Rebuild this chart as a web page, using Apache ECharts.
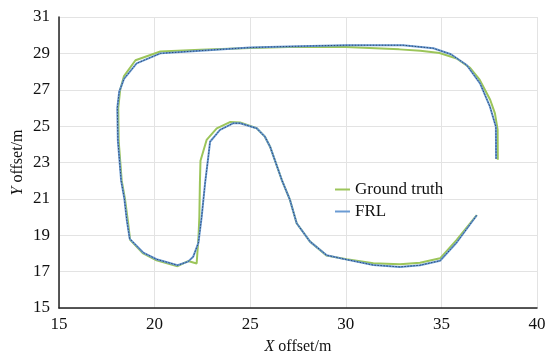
<!DOCTYPE html>
<html>
<head>
<meta charset="utf-8">
<script src="https://cdn.jsdelivr.net/npm/echarts@6/dist/echarts.min.js"></script>
<style>
  html, body { margin: 0; padding: 0; background: #fff; }
  #chart { width: 547px; height: 358px; }
</style>
</head>
<body>
<div id="chart"></div>
<script>
// trajectory points [x offset, y offset]
const groundTruth = [
  [37.95, 23.15], [37.94, 24.8], [37.8, 25.7], [37.55, 26.45], [37.0, 27.55],
  [36.5, 28.2], [35.8, 28.72], [34.9, 29.02], [33.9, 29.14], [32.8, 29.22],
  [30, 29.35], [27, 29.35], [25, 29.3], [22.4, 29.2], [20.3, 29.1],
  [19.0, 28.62], [18.4, 27.75], [18.2, 27.0], [18.1, 26.0], [18.12, 24.2],
  [18.28, 22.0], [18.45, 21.0], [18.6, 19.8], [18.72, 18.75], [19.4, 18.0],
  [20.1, 17.62], [21.2, 17.3], [21.75, 17.58], [22.2, 17.45], [22.3, 19.0],
  [22.34, 20.0], [22.37, 21.9], [22.4, 23.1], [22.72, 24.24], [23.25, 24.88],
  [23.94, 25.22], [24.47, 25.2], [25.34, 24.88], [25.77, 24.42], [26.04, 23.87],
  [26.65, 22.05], [27.08, 20.94], [27.43, 19.66], [28.13, 18.65], [29.0, 17.88],
  [30.05, 17.68], [31.44, 17.46], [32.83, 17.4], [33.88, 17.49], [34.93, 17.73],
  [35.8, 18.74], [36.85, 20.1]
];

const frl = [
  [37.86, 23.2], [37.85, 24.97], [37.54, 26.07], [37.02, 27.35], [36.32, 28.36],
  [35.5, 28.95], [34.58, 29.28], [33, 29.45], [30, 29.45], [27, 29.38],
  [25, 29.32], [22.4, 29.15], [20.3, 29.0], [19.06, 28.45], [18.4, 27.6],
  [18.15, 26.9], [18.05, 26.0], [18.08, 24.2], [18.25, 22.0], [18.42, 21.0],
  [18.55, 19.8], [18.7, 18.8], [19.4, 18.05], [20.1, 17.68], [21.2, 17.35],
  [21.75, 17.55], [22.02, 17.82], [22.29, 18.58], [22.46, 20.0], [22.64, 21.86],
  [22.81, 23.32], [22.9, 24.14], [23.42, 24.79], [24.12, 25.16], [24.47, 25.16],
  [25.34, 24.88], [25.77, 24.42], [26.04, 23.87], [26.65, 22.05], [27.08, 20.94],
  [27.43, 19.66], [28.13, 18.65], [29.0, 17.9], [30.05, 17.66], [31.44, 17.36],
  [32.83, 17.26], [33.88, 17.35], [34.93, 17.6], [35.8, 18.6], [36.85, 20.1]
];

const serif = '"Liberation Serif", "DejaVu Serif", serif';
const chart = echarts.init(document.getElementById('chart'));

chart.setOption({
  animation: false,
  grid: { left: 59, right: 10, top: 17, bottom: 50, outerBoundsMode: 'none' },
  legend: {
    left: 330, top: 176,
    orient: 'vertical',
    icon: 'rect',
    itemWidth: 15, itemHeight: 2, itemGap: 5,
    data: ['Ground truth', 'FRL'],
    textStyle: { fontFamily: serif, fontSize: 17, color: '#111' }
  },
  xAxis: {
    type: 'value', min: 15, max: 40, interval: 5,
    name: '{i|X} offset/m',
    nameLocation: 'middle', nameGap: 31,
    nameTextStyle: {
      fontFamily: serif, fontSize: 16, color: '#111',
      rich: { i: { fontFamily: serif, fontSize: 16, fontStyle: 'italic', color: '#111' } }
    },
    axisLine: { show: true, lineStyle: { color: '#222', width: 1.5 } },
    axisTick: { show: false },
    axisLabel: { fontFamily: serif, fontSize: 17, color: '#111', margin: 8 },
    splitLine: { show: true, lineStyle: { color: '#e3e3e3' } }
  },
  yAxis: {
    type: 'value', min: 15, max: 31, interval: 2,
    name: '{i|Y} offset/m',
    nameLocation: 'middle', nameGap: 33, nameMoveOverlap: false,
    nameTextStyle: {
      fontFamily: serif, fontSize: 16, color: '#111',
      rich: { i: { fontFamily: serif, fontSize: 16, fontStyle: 'italic', color: '#111' } }
    },
    axisLine: { show: true, lineStyle: { color: '#222', width: 1.5 } },
    axisTick: { show: false },
    axisLabel: { fontFamily: serif, fontSize: 17, color: '#111', margin: 9 },
    splitLine: { show: true, lineStyle: { color: '#e3e3e3' } }
  },
  series: [
    {
      name: 'Ground truth', type: 'line', data: groundTruth,
      showSymbol: false, symbol: 'none',
      lineStyle: { color: '#9cc55a', width: 2 },
      itemStyle: { color: '#9cc55a' }
    },
    {
      name: 'FRL', type: 'line', data: frl,
      showSymbol: false, symbol: 'none',
      lineStyle: { color: '#6a9bd3', width: 2 },
      itemStyle: { color: '#6a9bd3' }
    },
    {
      // dotted dark overlay on the FRL trace
      name: 'FRL dots', type: 'line', data: frl,
      showSymbol: false, symbol: 'none', silent: true,
      lineStyle: { color: '#2d4a75', width: 1, type: [1.5, 1.5] }
    }
  ]
});
</script>
</body>
</html>
